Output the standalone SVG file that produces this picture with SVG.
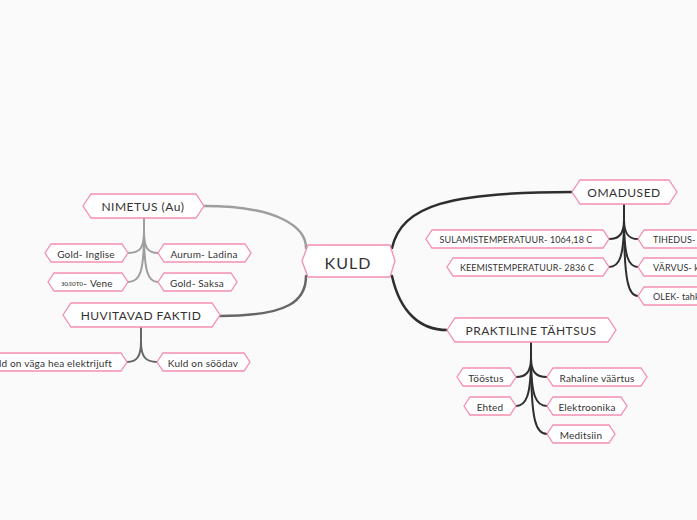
<svg xmlns="http://www.w3.org/2000/svg" width="697" height="520" viewBox="0 0 697 520">
<style>
.bg{fill:#fafafa}
.box{fill:#ffffff;stroke:#f48fb1;stroke-width:1.3}
.t{font-family:Lato,"Noto Sans","DejaVu Sans",sans-serif;fill:#333333;text-anchor:middle;dominant-baseline:central}
.s{font-size:10px;letter-spacing:0.2px}
.u{font-size:9px;letter-spacing:0.1px}
.m{font-size:12px;letter-spacing:0.5px}
.c{fill:none;stroke-width:2.5;stroke-linecap:round}
.g1{stroke:#9e9e9e}
.g2{stroke:#666666}
.g3{stroke:#2e2e2e}
.k{stroke-width:2}
</style>
<rect class="bg" x="0" y="0" width="697" height="520"/>
<g id="connectors">
<path class="c g1" d="M204,206 C280,206 306,228 306,248"/>
<path class="c g2" d="M220,316 C290,316 306,300 306,276"/>
<path class="c g3" d="M392,248 C402,205 450,192 572,192"/>
<path class="c g3" d="M392,276 C400,312 420,330 447,330"/>
<path class="c g1 k" d="M144,218 L144,232 C144,248 140,253 128,253"/>
<path class="c g1 k" d="M144,218 L144,232 C144,272 140,282 128,282"/>
<path class="c g1 k" d="M144,218 L144,232 C144,248 148,253 158,253"/>
<path class="c g1 k" d="M144,218 L144,232 C144,272 148,282 158,282"/>
<path class="c g2 k" d="M141,327 L141,342 C141,356 137,362 127,362"/>
<path class="c g2 k" d="M141,327 L141,342 C141,356 145,362 157,362"/>
<path class="c g3 k" d="M624,204 L624,220 C624,234 619,239 609,239"/>
<path class="c g3 k" d="M624,204 L624,220 C624,258 619,267 609,267"/>
<path class="c g3 k" d="M624,204 L624,220 C624,234 629,239 638,239"/>
<path class="c g3 k" d="M624,204 L624,220 C624,258 629,267 638,267"/>
<path class="c g3 k" d="M624,204 L624,220 C624,284 629,296 638,296"/>
<path class="c g3 k" d="M531,342 L531,358 C531,372 526,377 516,377"/>
<path class="c g3 k" d="M531,342 L531,358 C531,396 526,406 516,406"/>
<path class="c g3 k" d="M531,342 L531,358 C531,372 536,377 547,377"/>
<path class="c g3 k" d="M531,342 L531,358 C531,396 536,406 547,406"/>
<path class="c g3 k" d="M531,342 L531,358 C531,422 536,434 547,434"/>
</g>
<g id="kuld">
<path class="box" d="M302,261 L308,245 L390,245 L395,261 L390,277 L308,277 Z"/>
<text class="t" x="348" y="262" font-size="16" letter-spacing="1">KULD</text>
</g>
<g id="nimetus">
<path class="box" d="M83,206 L91,194 L196,194 L204,206 L196,218 L91,218 Z"/>
<text class="t m" x="143" y="206.5">NIMETUS (Au)</text>
</g>
<g id="n-gold-inglise">
<path class="box" d="M45,253 L51,244 L122,244 L128,253 L122,262 L51,262 Z"/>
<text class="t s" x="86" y="253.5">Gold- Inglise</text>
</g>
<g id="n-aurum">
<path class="box" d="M158,253 L164,244 L245,244 L251,253 L245,262 L164,262 Z"/>
<text class="t s" x="204" y="253.5">Aurum- Ladina</text>
</g>
<g id="n-vene">
<path class="box" d="M48,282 L54,273 L122,273 L128,282 L122,291 L54,291 Z"/>
<text class="t s" x="87" y="282.5"><tspan font-family="'Liberation Serif',serif" font-size="7.5">золото</tspan>- Vene</text>
</g>
<g id="n-saksa">
<path class="box" d="M158,282 L164,273 L231,273 L237,282 L231,291 L164,291 Z"/>
<text class="t s" x="197" y="282.5">Gold- Saksa</text>
</g>
<g id="huvitavad">
<path class="box" d="M63,315 L71,303 L212,303 L220,315 L212,327 L71,327 Z"/>
<text class="t m" x="141" y="315.5">HUVITAVAD FAKTID</text>
</g>
<g id="h-elekter">
<path class="box" d="M-12,362 L-6,353 L121,353 L127,362 L121,371 L-6,371 Z"/>
<text class="t s" x="112" y="362.5" style="text-anchor:end">Kuld on väga hea elektrijuft</text>
</g>
<g id="h-soodav">
<path class="box" d="M157,362 L163,353 L244,353 L250,362 L244,371 L163,371 Z"/>
<text class="t s" x="203" y="362.5">Kuld on söödav</text>
</g>
<g id="omadused">
<path class="box" d="M572,192 L580,180 L669,180 L677,192 L669,204 L580,204 Z"/>
<text class="t m" x="624" y="192.5">OMADUSED</text>
</g>
<g id="o-sulamis">
<path class="box" d="M426,239 L432,230 L603,230 L609,239 L603,248 L432,248 Z"/>
<text class="t u" x="516" y="239.5">SULAMISTEMPERATUUR- 1064,18 C</text>
</g>
<g id="o-keemis">
<path class="box" d="M447,267 L453,258 L603,258 L609,267 L603,276 L453,276 Z"/>
<text class="t u" x="527" y="267.5">KEEMISTEMPERATUUR- 2836 C</text>
</g>
<g id="o-tihedus">
<path class="box" d="M638,239 L644,230 L720,230 L726,239 L720,248 L644,248 Z"/>
<text class="t u" x="653" y="239.5" style="text-anchor:start">TIHEDUS- 19,3</text>
</g>
<g id="o-varvus">
<path class="box" d="M638,267 L644,258 L720,258 L726,267 L720,276 L644,276 Z"/>
<text class="t u" x="653" y="267.5" style="text-anchor:start">VÄRVUS- kollane</text>
</g>
<g id="o-olek">
<path class="box" d="M638,296 L644,287 L720,287 L726,296 L720,305 L644,305 Z"/>
<text class="t u" x="653" y="296.5" style="text-anchor:start">OLEK- tahke</text>
</g>
<g id="praktiline">
<path class="box" d="M447,330 L455,318 L608,318 L616,330 L608,342 L455,342 Z"/>
<text class="t m" x="531" y="330.5">PRAKTILINE TÄHTSUS</text>
</g>
<g id="p-toostus">
<path class="box" d="M457,377 L463,368 L510,368 L516,377 L510,386 L463,386 Z"/>
<text class="t s" x="486" y="377.5">Tööstus</text>
</g>
<g id="p-ehted">
<path class="box" d="M464,406 L470,397 L510,397 L516,406 L510,415 L470,415 Z"/>
<text class="t s" x="490" y="406.5">Ehted</text>
</g>
<g id="p-raha">
<path class="box" d="M547,377 L553,368 L641,368 L647,377 L641,386 L553,386 Z"/>
<text class="t s" x="597" y="377.5">Rahaline väärtus</text>
</g>
<g id="p-elektroonika">
<path class="box" d="M547,406 L553,397 L621,397 L627,406 L621,415 L553,415 Z"/>
<text class="t s" x="587" y="406.5">Elektroonika</text>
</g>
<g id="p-meditsiin">
<path class="box" d="M547,434 L553,425 L609,425 L615,434 L609,443 L553,443 Z"/>
<text class="t s" x="581" y="434.5">Meditsiin</text>
</g>
</svg>
